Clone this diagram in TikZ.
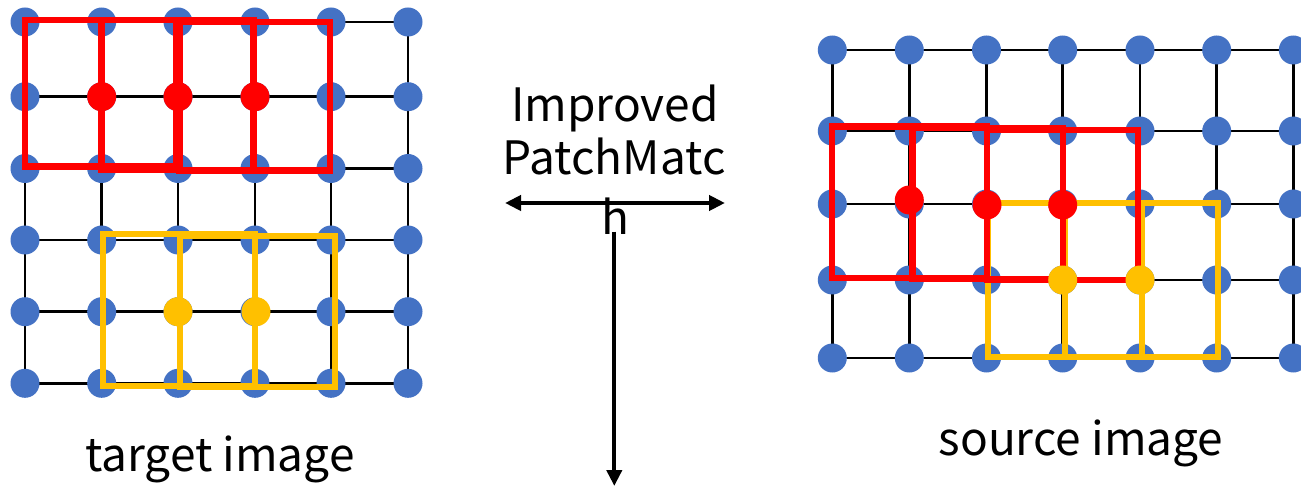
\documentclass[tikz,border=0pt]{standalone}
\usepackage{fontspec}
\setmainfont{Noto Sans CJK SC}
\usetikzlibrary{arrows.meta}
\definecolor{dotblue}{HTML}{4472C4}
\definecolor{pred}{HTML}{FF0000}
\definecolor{pyel}{HTML}{FFC000}
\tikzset{
  gridline/.style={draw=black, line width=2.8pt},
  bdot/.style={circle, fill=dotblue, inner sep=0pt, minimum size=29pt},
  rdot/.style={circle, fill=pred, inner sep=0pt, minimum size=29pt},
  ydot/.style={circle, fill=pyel, inner sep=0pt, minimum size=29pt},
  redbox/.style={draw=pred, line width=6.5pt},
  yelbox/.style={draw=pyel, line width=6pt},
  lbl/.style={font=\fontsize{46}{54}\selectfont, inner sep=0pt, anchor=base},
  arr/.style={line width=4pt, -{Triangle[length=16pt,width=15pt]}},
  darr/.style={line width=4pt, {Triangle[length=16pt,width=15pt]}-{Triangle[length=16pt,width=15pt]}},
}
\begin{document}
\begin{tikzpicture}[x=1pt,y=-1pt]
\useasboundingbox (0,0) rectangle (1301,486);
% ---------- left grid (target image) ----------
\foreach \c/\x in {0/25,1/101.7,2/178,3/255,4/331,5/408}{
  \foreach \r/\y in {0/22,1/96.7,2/168.5,3/240,4/311.7,5/383.3}{
    \coordinate (L-\r-\c) at (\x,\y);
  }
}
\foreach \r in {0,...,5}{ \draw[gridline] (L-\r-0) -- (L-\r-5); }
\foreach \c in {0,...,5}{ \draw[gridline] (L-0-\c) -- (L-5-\c); }
\foreach \r in {0,...,5}{ \foreach \c in {0,...,5}{ \node[bdot] (LD-\r-\c) at (L-\r-\c) {}; } }
% ---------- right grid (source image) ----------
\foreach \c/\x in {0/832.3,1/909.3,2/986.5,3/1062.7,4/1140,5/1216.7,6/1293.3}{
  \foreach \r/\y in {0/50,1/131,2/204,3/280,4/358}{
    \coordinate (R-\r-\c) at (\x,\y);
  }
}
\foreach \r in {0,...,4}{ \draw[gridline] (R-\r-0) -- (R-\r-6); }
\foreach \c in {0,...,6}{ \draw[gridline] (R-0-\c) -- (R-4-\c); }
\foreach \r in {0,...,4}{ \foreach \c in {0,...,6}{ \node[bdot] (RD-\r-\c) at (R-\r-\c) {}; } }
% ---------- left patches ----------
\draw[yelbox] (102.7,234) rectangle (255,386);
\draw[yelbox] (180,236) rectangle (335,387);
\draw[redbox] (25,20) rectangle (176.7,166.7);
\draw[redbox] (101.7,20) rectangle (253.3,170);
\draw[redbox] (179.3,22) rectangle (330,170.7);
\node[rdot] (LR1) at (101.7,96.7) {};
\node[rdot] (LR2) at (178,96.7) {};
\node[rdot] (LR3) at (255,96.7) {};
\node[ydot] (LY1) at (178,311.7) {};
\node[ydot] (LY2) at (256,311.7) {};
% ---------- right patches ----------
\draw[yelbox] (988,203) rectangle (1141.7,357);
\draw[yelbox] (1065,203) rectangle (1218,357);
\draw[redbox] (832,126.7) rectangle (987,278);
\draw[redbox] (912.7,128) rectangle (1063,279);
\draw[redbox] (987,130) rectangle (1138,280);
\node[rdot] (RR1) at (909.3,200) {};
\node[rdot] (RR2) at (987,205) {};
\node[rdot] (RR3) at (1062.7,205) {};
\node[ydot] (RY1) at (1062.7,280) {};
\node[ydot] (RY2) at (1140,280) {};
% ---------- centre ----------
\node[lbl] (t1) at (615,122) {Improved};
\node[lbl] (t2) at (614,175) {PatchMatc};
\coordinate (hl) at (505,203);
\coordinate (hr) at (725,203);
\draw[darr] (hl) -- (hr);
\node[lbl] (t3) at (615,235) {h};
\coordinate (vt) at (614.3,231.7);
\coordinate (vb) at (614.3,486);
\draw[arr] (vt) -- (vb);
% ---------- labels ----------
\node[lbl] (tgt) at (220,471.7) {target image};
\node[lbl] (src) at (1081,455) {source image};
\end{tikzpicture}
\end{document}
